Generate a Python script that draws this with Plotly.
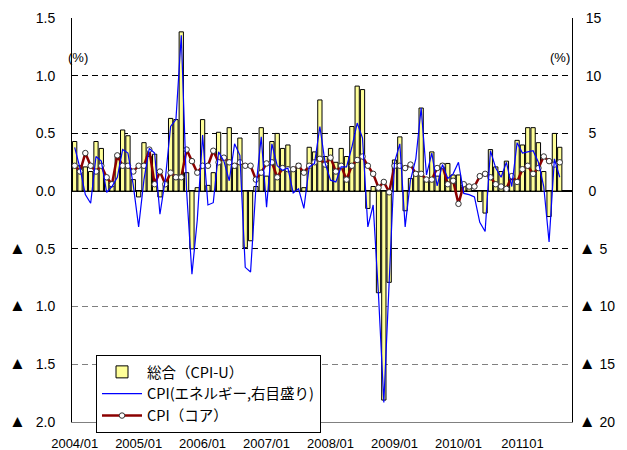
import plotly.graph_objects as go

# Monthly data, 2004/01 - 2011/08
months = [f"{y}/{m:02d}" for y in range(2004, 2012) for m in range(1, 13)][:92]

cpi_u = [0.43, 0.22, 0.21, 0.17, 0.43, 0.37, 0.10, 0.07, 0.32, 0.53, 0.48, 0.10,
         -0.05, 0.42, 0.30, 0.32, -0.05, 0.05, 0.63, 0.62, 1.38, 0.16, -0.50, 0.03,
         0.62, 0.05, 0.16, 0.51, 0.30, 0.55, 0.20, 0.46, -0.49, -0.43, 0.04, 0.55,
         0.13, 0.43, 0.50, 0.37, 0.40, 0.20, 0.24, 0.03, 0.38, 0.34, 0.79, 0.30,
         0.37, 0.25, 0.37, 0.30, 0.56, 0.91, 0.88, -0.15, 0.04, -0.88, -1.81, -0.79,
         0.27, 0.47, -0.17, 0.11, 0.17, 0.72, 0.11, 0.34, 0.13, 0.24, 0.24, 0.14,
         0.14, 0.04, 0.03, 0.00, -0.09, -0.19, 0.36, 0.21, 0.17, 0.26, 0.10, 0.44,
         0.40, 0.55, 0.55, 0.42, 0.17, -0.22, 0.50, 0.38]

energy = [3.8, 2.0, -0.3, -1.05, 3.0, 2.6, -0.1, 0.4, 1.2, 3.6, 3.3, 0.5,
          -3.1, 1.0, 3.7, 3.3, -2.0, 1.0, 5.6, 6.2, 13.5, 0.0, -7.2, -2.5,
          4.85, -1.2, -1.0, 3.4, 2.6, 0.9, 4.1, 3.1, -6.6, -7.0, 0.3, 4.7,
          -1.4, 4.1, 2.2, 1.8, 2.0, -0.15, 0.2, -1.5, 2.1, 2.4, 5.6, 2.4,
          0.95, 0.8, 2.1, 2.1, 3.8, 5.9, 4.6, -3.1, -1.2, -9.0, -18.3, -8.5,
          2.5, 4.1, -3.1, 0.95, 2.8, 7.2, 1.4, 3.3, 0.45, 2.3, 1.1, 1.5,
          2.5, -0.2, -0.3, -0.5, -2.7, -3.5, 3.5, 2.0, 1.2, 2.5, 0.4, 4.2,
          3.3, 3.4, 3.5, 2.5, 0.4, -4.4, 2.8, 1.2]

core = [0.22, 0.17, 0.33, 0.22, 0.17, 0.22, 0.12, 0.06, 0.31, 0.22, 0.22, 0.17,
        0.22, 0.22, 0.36, 0.06, 0.17, 0.06, 0.16, 0.12, 0.12, 0.36, 0.26, 0.16,
        0.22, 0.22, 0.35, 0.25, 0.29, 0.25, 0.22, 0.25, 0.22, 0.22, 0.10, 0.16,
        0.24, 0.25, 0.12, 0.20, 0.19, 0.19, 0.22, 0.16, 0.22, 0.25, 0.28, 0.23,
        0.29, 0.17, 0.22, 0.10, 0.22, 0.27, 0.30, 0.22, 0.15, 0.03, 0.08, -0.01,
        0.22, 0.22, 0.20, 0.23, 0.15, 0.15, 0.10, 0.10, 0.20, 0.22, 0.06, 0.09,
        -0.11, 0.06, 0.04, 0.04, 0.13, 0.15, 0.12, 0.06, 0.04, 0.02, 0.13, 0.08,
        0.19, 0.22, 0.15, 0.20, 0.30, 0.26, 0.23, 0.25]

x_tick_pos = [0, 12, 24, 36, 48, 60, 72, 84]
x_tick_text = ["2004/01", "2005/01", "2006/01", "2007/01", "2008/01", "2009/01", "2010/01", "201101"]

TRI = "<span style='font-size:17px'>▲</span>"
GAP = "\u2002\u2009"
left_vals = [-2.0, -1.5, -1.0, -0.5, 0.0, 0.5, 1.0, 1.5]
left_text = [TRI + GAP + "2.0", TRI + GAP + "1.5", TRI + GAP + "1.0", TRI + GAP + "0.5",
             "0.0", "0.5", "1.0", "1.5"]
right_vals = [-20, -15, -10, -5, 0, 5, 10, 15]
right_text = [TRI + " 20", TRI + " 15", TRI + " 10", TRI + " 5",
              "\u2002\u2009" + "0", "\u2002\u2009" + "5", "\u2002" + "10", "\u2002" + "15"]
grid_dark_left = [-0.5, 0.5, 1.0]      # black dashed gridlines
grid_grey_right = [-15, -10]           # grey dashed gridlines (= -1.5, -1.0 on left scale)

idx = list(range(len(cpi_u)))
tick_font = dict(family="Liberation Sans, DejaVu Sans, Noto Sans CJK JP", size=14, color="black")
jp_font = dict(family="Noto Sans CJK JP, Liberation Sans", size=14.5, color="black")
DASH = "6px,4px"

fig = go.Figure()
fig.add_trace(go.Bar(x=idx, y=cpi_u, name="総合（CPI-U）", width=0.8, legendgroup="a",
                     marker=dict(color="#FFFF99", line=dict(color="black", width=1)),
                     hovertext=months))
fig.add_trace(go.Scatter(x=idx, y=energy, name="CPI(エネルギー,右目盛り)", yaxis="y2",
                         legendgroup="b", mode="lines", line=dict(color="#0000FF", width=1.2)))
fig.add_trace(go.Scatter(x=idx, y=core, name="CPI（コア）", mode="lines+markers", legendgroup="c",
                         line=dict(color="#8B0000", width=2.5),
                         marker=dict(symbol="circle", size=5.5, color="white",
                                     line=dict(color="#333333", width=1))))

# the page body has an 8px default margin; margins compensate so the plot area
# lands at page x 72-572, y 18-422
fig.update_layout(
    width=627, height=450, autosize=False,
    margin=dict(l=64, r=63, t=10, b=36),
    paper_bgcolor="white", plot_bgcolor="white",
    bargap=0.15,
    showlegend=True,
    legend=dict(x=0.048, y=0.166, xanchor="left", yanchor="top",
                bgcolor="white", bordercolor="black", borderwidth=1, itemwidth=40,
                font=jp_font, traceorder="normal", tracegroupgap=2),
    xaxis=dict(range=[-0.5, 93.3], tickmode="array", tickvals=x_tick_pos, ticktext=x_tick_text,
               showgrid=False, zeroline=False, showline=True, linecolor="#808080", linewidth=1,
               ticks="", tickfont=dict(family="Liberation Sans, Noto Sans CJK JP", size=13, color="black"),
               ticklabelstandoff=9, automargin=False),
    yaxis=dict(range=[-2.0, 1.5], tickmode="array", tickvals=left_vals, ticktext=left_text,
               showgrid=False,
               minor=dict(tickmode="array", tickvals=grid_dark_left, showgrid=True,
                          gridcolor="black", gridwidth=1, griddash=DASH, ticks=""),
               zeroline=True, zerolinecolor="black", zerolinewidth=1.5,
               showline=True, linecolor="black", linewidth=1, ticks="",
               tickfont=tick_font, ticklabelstandoff=13, automargin=False),
    yaxis2=dict(range=[-20, 15], overlaying="y", side="right", tickmode="array",
                tickvals=right_vals, ticktext=right_text, showgrid=False, zeroline=False,
                minor=dict(tickmode="array", tickvals=grid_grey_right, showgrid=True,
                           gridcolor="#808080", gridwidth=1, griddash=DASH, ticks=""),
                showline=True, linecolor="black", linewidth=1, ticks="",
                tickfont=tick_font, ticklabelstandoff=3, automargin=False),
    annotations=[
        dict(text="(%)", xref="paper", yref="paper", x=-0.012, y=0.925, showarrow=False,
             font=dict(family="Liberation Sans, Noto Sans CJK JP", size=13, color="black")),
        dict(text="(%)", xref="paper", yref="paper", x=1.0, y=0.925, showarrow=False,
             font=dict(family="Liberation Sans, Noto Sans CJK JP", size=13, color="black")),
    ],
)

fig.write_html("out.html")
